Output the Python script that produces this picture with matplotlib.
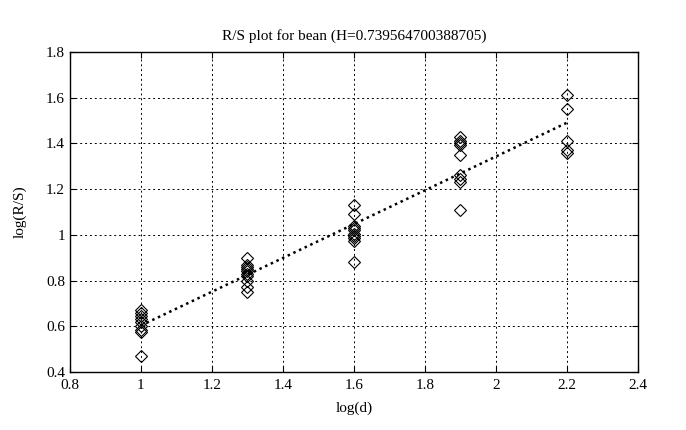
import numpy as np
import matplotlib
matplotlib.use("Agg")
import matplotlib.pyplot as plt

plt.rcParams["font.family"] = ["Liberation Serif", "DejaVu Serif"]

# log(d) positions and log(R/S) values
log_d = [1.0, 1.3, 1.6, 1.9, 2.2]
rs_1 = [0.67, 0.66, 0.645, 0.63, 0.62, 0.60, 0.585, 0.575, 0.47]
rs_2 = [0.90, 0.87, 0.86, 0.85, 0.84, 0.83, 0.82, 0.80, 0.77, 0.75]
rs_3 = [1.13, 1.09, 1.04, 1.03, 1.02, 1.005, 0.995, 0.985, 0.975, 0.88]
rs_4 = [1.43, 1.41, 1.40, 1.395, 1.35, 1.26, 1.245, 1.23, 1.11]
rs_5 = [1.61, 1.55, 1.41, 1.37, 1.36]
H = 0.739564700388705
title = "R/S plot for bean (H=0.739564700388705)"

groups = [rs_1, rs_2, rs_3, rs_4, rs_5]
xs = np.concatenate([[d] * len(g) for d, g in zip(log_d, groups)])
ys = np.concatenate(groups)

# fitted line with slope H through the data centroid
b = ys.mean() - H * xs.mean()
xl = np.array([log_d[0], log_d[-1]])

fig = plt.figure(figsize=(6.86, 4.30), dpi=100)
ax = fig.add_axes([0.102, 0.135, 0.828, 0.744])

ax.plot(xs, ys, linestyle="none", marker="D", markersize=6.5,
        markerfacecolor="none", markeredgecolor="black", markeredgewidth=0.8)
ax.plot(xl, H * xl + b, color="black", linestyle=(0, (1, 1.5)), linewidth=1.8)

ax.set_xlim(0.8, 2.4)
ax.set_ylim(0.4, 1.8)
ax.set_xticks(np.arange(0.8, 2.41, 0.2))
ax.set_yticks(np.arange(0.4, 1.81, 0.2))
ax.set_xticklabels(["0.8", "1", "1.2", "1.4", "1.6", "1.8", "2", "2.2", "2.4"])
ax.set_yticklabels(["0.4", "0.6", "0.8", "1", "1.2", "1.4", "1.6", "1.8"])
ax.grid(True, color="black", linestyle=(0, (2, 3)), linewidth=0.7)
ax.tick_params(direction="in", top=True, right=True, labelsize=11, length=4)
ax.tick_params(axis="x", pad=5)
for s in ax.spines.values():
    s.set_linewidth(1.0)

ax.set_xlabel("log(d)", fontsize=11, labelpad=7)
ax.set_ylabel("log(R/S)", fontsize=11, labelpad=14)
ax.set_title(title, fontsize=11, pad=9)

fig.savefig("out.png", dpi=100)
